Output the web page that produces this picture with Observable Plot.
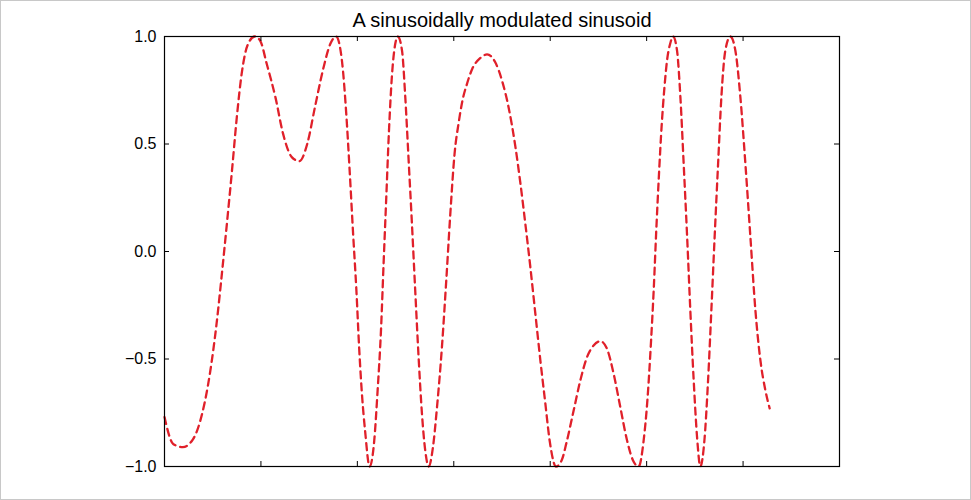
<!DOCTYPE html>
<html>
<head>
<meta charset="utf-8">
<script src="https://cdn.jsdelivr.net/npm/d3@7"></script>
<script src="https://cdn.jsdelivr.net/npm/@observablehq/plot@0.6"></script>
<style>
  html, body { margin: 0; padding: 0; background: #fff; }
  #wrap { position: relative; width: 971px; height: 500px; overflow: hidden; }
  #border { position: absolute; left: 0; top: 0; width: 971px; height: 500px; box-sizing: border-box; border: 1px solid #c8c8c8; pointer-events: none; }
</style>
</head>
<body>
<div id="wrap"><div id="chart"></div><div id="border"></div></div>
<script>
const titleText = "A sinusoidally modulated sinusoid";

const xs = [0.00, 0.09, 0.19, 0.30, 0.39, 0.47, 0.54, 0.595, 0.647, 0.70, 0.75, 0.80, 0.86, 0.935,
  0.993, 1.06, 1.15, 1.23, 1.32, 1.40, 1.48, 1.56, 1.65, 1.72, 1.78,
  1.84, 1.885, 1.92, 1.954, 1.99, 2.02, 2.05, 2.08, 2.127,
  2.175, 2.21, 2.245, 2.272, 2.30, 2.328, 2.36, 2.393, 2.42,
  2.463, 2.497, 2.53, 2.566, 2.60, 2.635, 2.67, 2.704, 2.74,
  2.784, 2.826, 2.877, 2.922, 2.964, 3.008, 3.051, 3.089, 3.137, 3.192, 3.275, 3.345,
  3.43, 3.50, 3.568, 3.638, 3.69, 3.742, 3.794, 3.846, 3.898, 3.95, 3.994, 4.06,
  4.12, 4.174, 4.243, 4.312, 4.382, 4.45, 4.52,
  4.589, 4.658, 4.727, 4.797, 4.859, 4.917,
  4.969, 5.01, 5.046, 5.073, 5.10, 5.128, 5.155, 5.184, 5.212, 5.246, 5.274,
  5.315, 5.35, 5.384, 5.42, 5.453, 5.488, 5.523, 5.557,
  5.599, 5.637, 5.671, 5.705, 5.741, 5.775, 5.816, 5.868,
  5.92, 5.972, 6.024, 6.076, 6.128, 6.18, 6.232, 6.276];

const ys = [-0.77, -0.895, -0.91, -0.87, -0.755, -0.57, -0.336, -0.104, 0.129, 0.377, 0.625, 0.826, 0.958, 1.0,
  0.98, 0.873, 0.718, 0.547, 0.439, 0.42, 0.50, 0.671, 0.857, 0.966, 1.0,
  0.888, 0.64, 0.377, 0.098, -0.181, -0.46, -0.678, -0.833, -1.0,
  -0.88, -0.647, -0.367, -0.057, 0.253, 0.563, 0.826, 0.966, 1.0,
  0.935, 0.718, 0.439, 0.129, -0.181, -0.491, -0.755, -0.926, -1.0,
  -0.91, -0.724, -0.445, -0.135, 0.175, 0.454, 0.60, 0.70, 0.78, 0.85, 0.90, 0.917,
  0.88, 0.795, 0.671, 0.49, 0.32, 0.129, -0.073, -0.29, -0.507, -0.709, -0.879, -1.0,
  -0.97, -0.879, -0.74, -0.60, -0.491, -0.437, -0.417,
  -0.453, -0.569, -0.724, -0.879, -0.972, -1.0,
  -0.879, -0.678, -0.414, -0.181, 0.10, 0.36, 0.58, 0.76, 0.89, 0.97, 1.0,
  0.935, 0.718, 0.408, 0.067, -0.274, -0.60, -0.864, -1.0,
  -0.879, -0.60, -0.274, 0.067, 0.408, 0.718, 0.935, 1.0,
  0.935, 0.718, 0.408, 0.067, -0.274, -0.507, -0.647, -0.73];

const xTicks = [0, 1, 2, 3, 4, 5, 6, 7];
const yTicks = [-1, -0.5, 0, 0.5, 1];
const yTickLabels = ["\u22121.0", "\u22120.5", "0.0", "0.5", "1.0"];

const data = xs.map((x, i) => ({x, y: ys[i]}));

const W = 971, H = 500;
const mL = 164, mR = 132, mT = 36, mB = 34;
const plotW = W - mL - mR, plotH = H - mT - mB;
const tickLen = 5;

const chart = Plot.plot({
  width: W,
  height: H,
  marginLeft: mL,
  marginRight: mR,
  marginTop: mT,
  marginBottom: mB,
  x: {domain: [0, 7], axis: null},
  y: {domain: [-1, 1], axis: null},
  style: {fontFamily: "'Liberation Sans', Arial, sans-serif", fontSize: "16px", background: "white", color: "black"},
  marks: [
    Plot.line(data, {x: "x", y: "y", stroke: "#e0202a", strokeWidth: 2.3, strokeDasharray: "7,5", curve: "monotone-x"}),
    Plot.frame({stroke: "black", strokeWidth: 1.2}),
    Plot.tickY(yTicks, {y: d => d, stroke: "black", insetRight: plotW - tickLen}),
    Plot.tickY(yTicks, {y: d => d, stroke: "black", insetLeft: plotW - tickLen}),
    Plot.tickX(xTicks, {x: d => d, stroke: "black", insetTop: plotH - tickLen}),
    Plot.tickX(xTicks, {x: d => d, stroke: "black", insetBottom: plotH - tickLen}),
    Plot.axisY({anchor: "left", ticks: yTicks, tickSize: 0, tickPadding: 8, label: null,
      tickFormat: d => yTickLabels[yTicks.indexOf(d)], fontSize: 16}),
    Plot.text([titleText], {frameAnchor: "top", lineAnchor: "middle", dy: -16, fontSize: 20, fill: "black", text: d => d})
  ]
});
document.getElementById("chart").appendChild(chart);
</script>
</body>
</html>
